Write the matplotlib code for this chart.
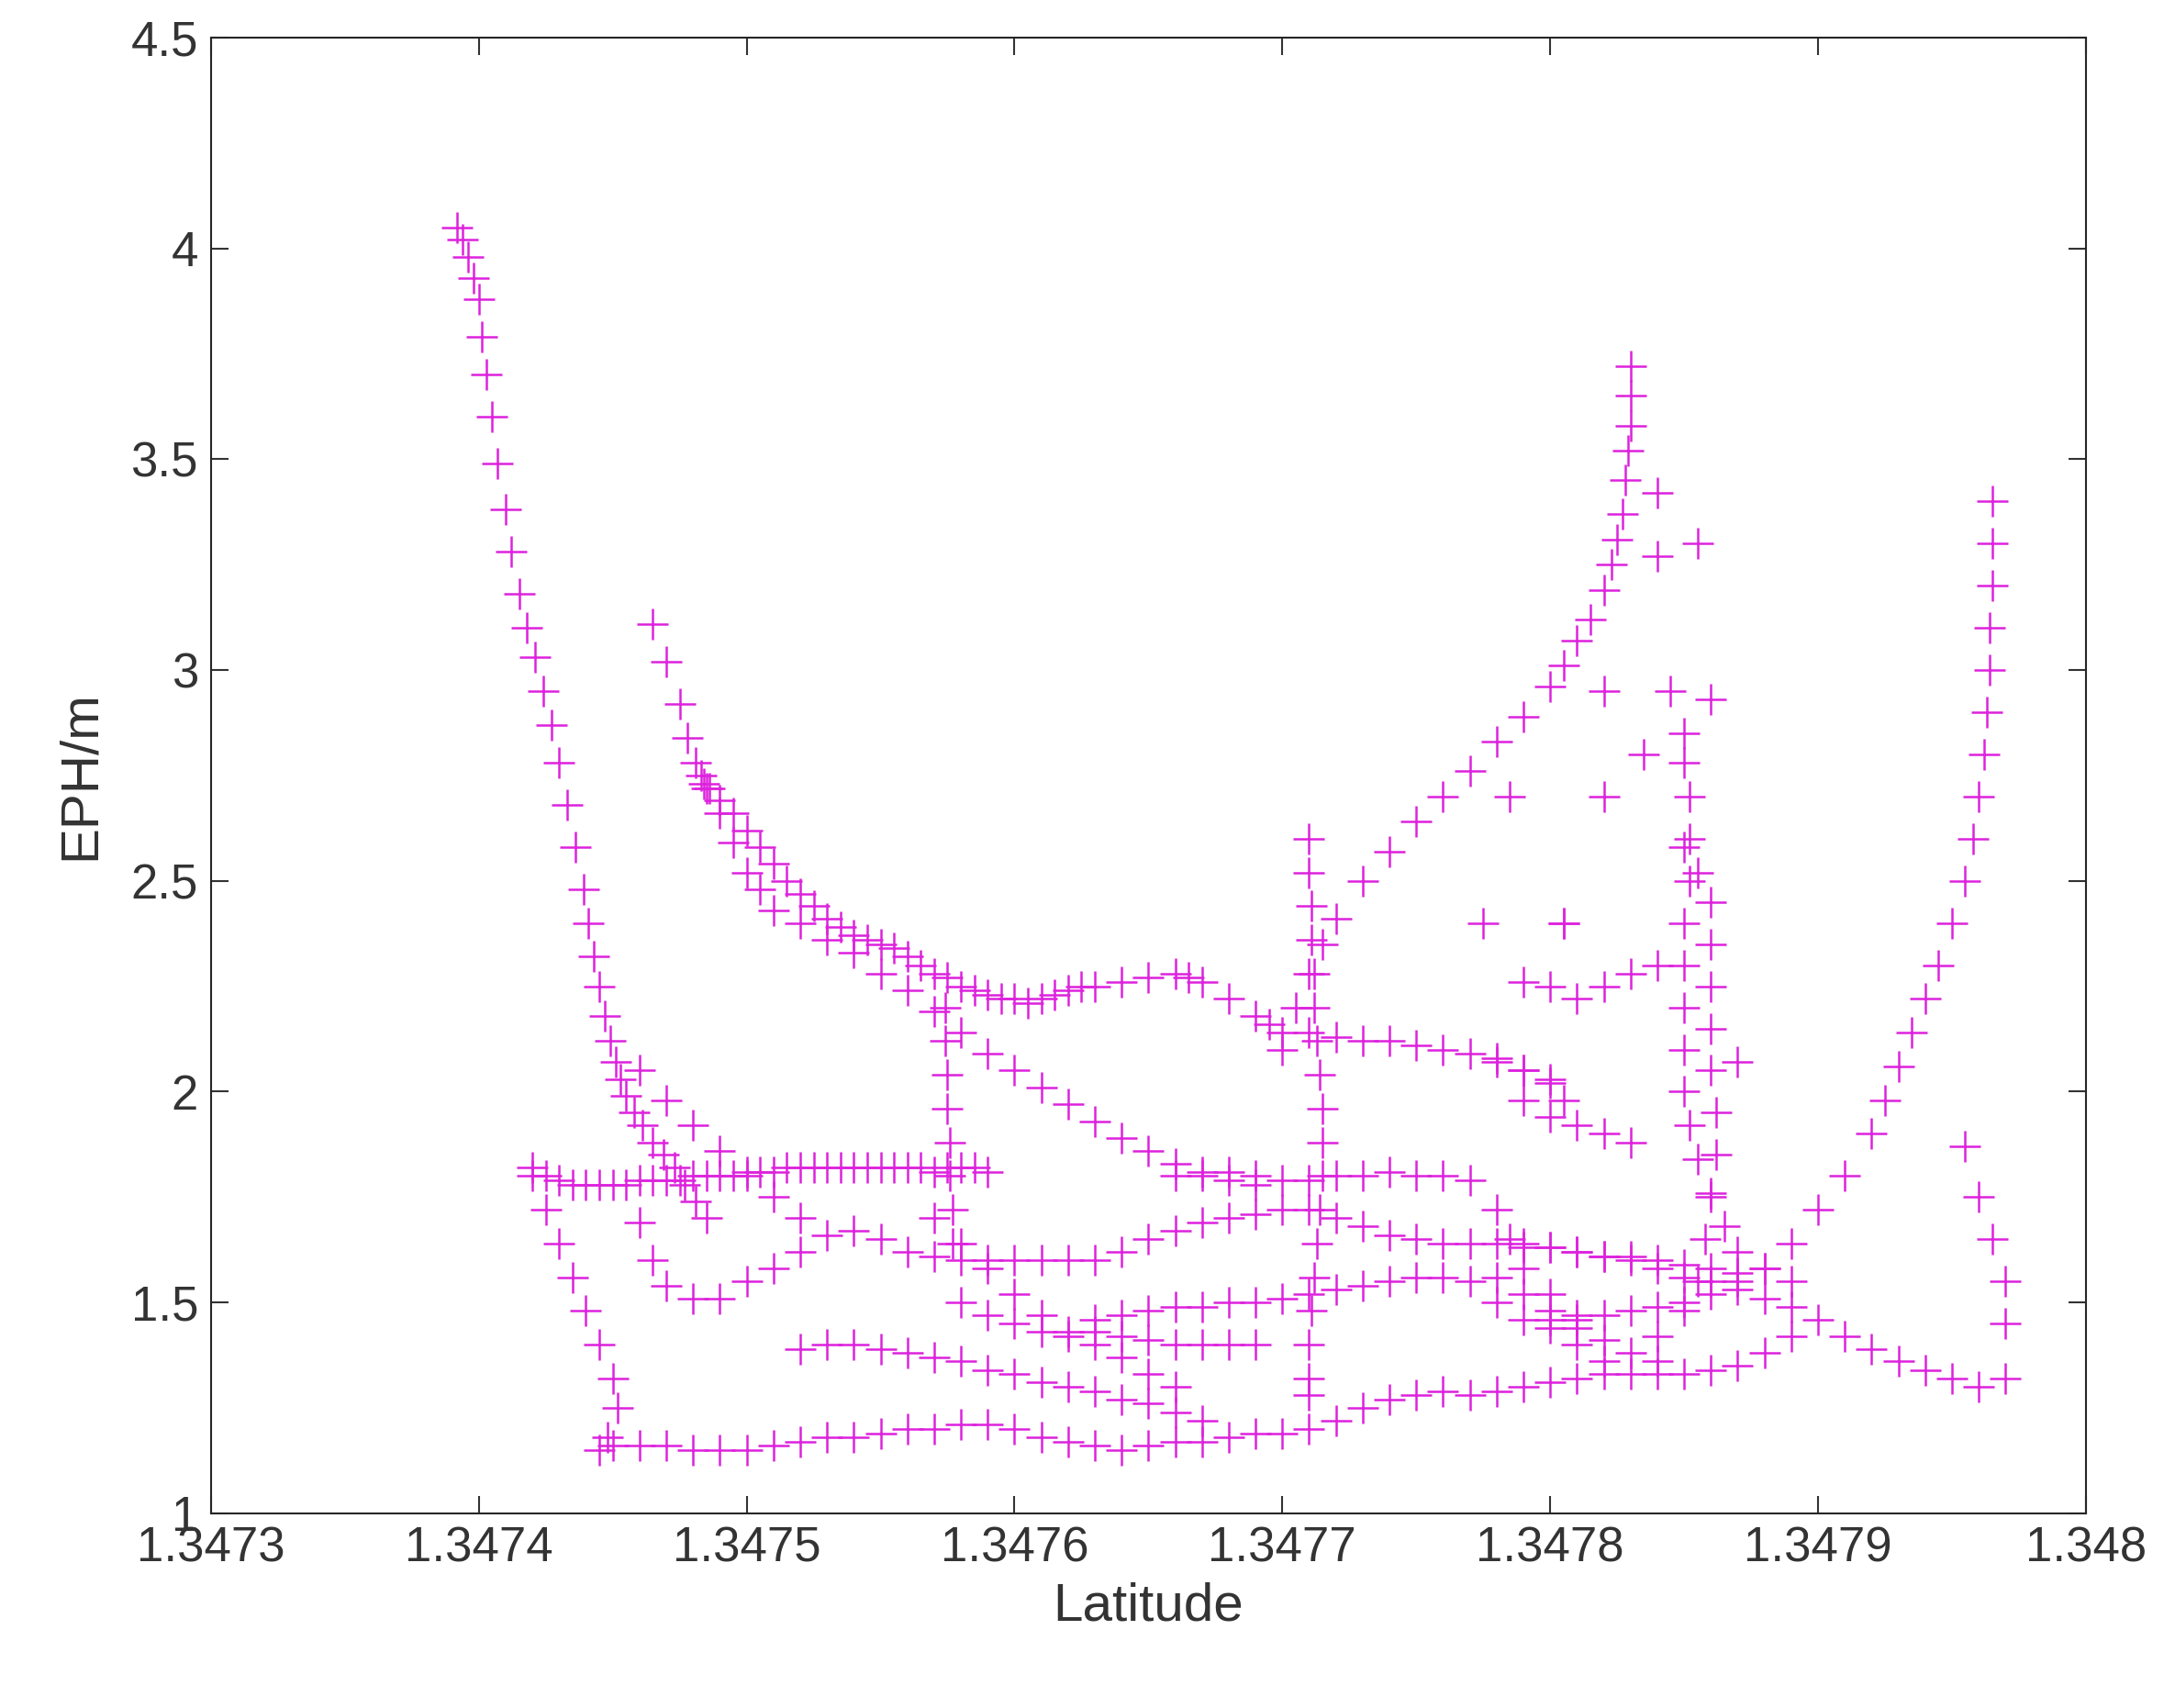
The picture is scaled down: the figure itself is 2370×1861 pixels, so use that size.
import matplotlib
matplotlib.use("Agg")
import matplotlib.pyplot as plt
import numpy as np

plt.rcParams['font.family'] = ['Liberation Sans', 'DejaVu Sans']

# (latitude, EPH) samples per track
track1 = list(zip(
    [1.347392,1.347394,1.347396,1.347398,1.347400,1.347401,1.347403,1.347405,1.347407,1.347410,1.347412,1.347415,1.347418,1.347421,1.347424,1.347427,1.347430,1.347433,1.347436,1.347439,1.347441,1.347443,1.347445,1.347447,1.347449,1.347451,1.347453,1.347455,1.347458,1.347461,1.347465,1.347469,1.347473,1.347477,1.347481,1.347485],
    [4.05,4.02,3.98,3.93,3.88,3.79,3.70,3.60,3.49,3.38,3.28,3.18,3.10,3.03,2.95,2.87,2.78,2.68,2.58,2.48,2.40,2.32,2.25,2.18,2.12,2.07,2.03,1.99,1.95,1.92,1.88,1.85,1.82,1.78,1.74,1.70]))
track2 = list(zip(
    [1.347465,1.347470,1.347475,1.347478,1.347481,1.347483,1.347484,1.347486,1.347490,1.347495,1.347500,1.347505,1.347510,1.347515,1.347520,1.347525,1.347530,1.347535,1.347540,1.347545,1.347550,1.347555,1.347560,1.347565,1.347570,1.347575,1.347580,1.347585,1.347590,1.347595,1.347600,1.347605,1.347610,1.347615,1.347620,1.347625,1.347630,1.347640,1.347650,1.347660,1.347665,1.347670,1.347680,1.347690,1.347695,1.347700],
    [3.11,3.02,2.92,2.84,2.78,2.75,2.73,2.72,2.69,2.66,2.62,2.58,2.54,2.50,2.47,2.44,2.41,2.39,2.37,2.36,2.35,2.34,2.32,2.30,2.28,2.27,2.25,2.24,2.23,2.22,2.22,2.21,2.22,2.23,2.24,2.25,2.25,2.26,2.27,2.28,2.27,2.26,2.22,2.18,2.16,2.14]))
track3 = list(zip(
    [1.347485,1.34749,1.347495,1.3475,1.347505,1.34751,1.34752,1.34753,1.34754,1.34755,1.34756,1.34757,1.34758,1.34759,1.3476,1.34761,1.34762,1.34763,1.34764,1.34765,1.34766,1.34767,1.34768,1.34769],
    [2.72,2.66,2.59,2.52,2.48,2.43,2.40,2.36,2.33,2.28,2.24,2.19,2.14,2.09,2.05,2.01,1.97,1.93,1.89,1.86,1.83,1.81,1.79,1.78]))
track4 = list(zip(
    [1.34770,1.347705,1.34771,1.347715,1.34772,1.34773,1.34774,1.34775,1.34776,1.34777,1.34778,1.34779,1.34780,1.347805,1.34781,1.347815,1.34782,1.347823,1.347825,1.347827,1.347828,1.347829,1.34783,1.34783,1.34783],
    [2.10,2.20,2.28,2.35,2.41,2.50,2.57,2.64,2.70,2.76,2.83,2.89,2.96,3.01,3.07,3.12,3.19,3.25,3.31,3.37,3.45,3.52,3.58,3.65,3.72]))
track5 = list(zip(
    [1.347965,1.347965,1.347965,1.347964,1.347964,1.347963,1.347962,1.34796,1.347958,1.347955,1.34795,1.347945,1.34794,1.347935,1.34793,1.347925,1.34792,1.34791,1.3479,1.34789,1.34788,1.34787,1.34786,1.34785,1.34784,1.34783,1.34782,1.34781,1.3478],
    [3.40,3.30,3.20,3.10,3.00,2.90,2.80,2.70,2.60,2.50,2.40,2.30,2.22,2.14,2.06,1.98,1.90,1.80,1.72,1.64,1.58,1.55,1.52,1.50,1.49,1.48,1.47,1.47,1.46]))
track6 = list(zip(
    [1.347955,1.34796,1.347965,1.34797,1.34797,1.34797,1.34796,1.34795,1.34794,1.34793,1.34792,1.34791,1.3479,1.34789,1.34788,1.34787,1.34786,1.34785,1.34784,1.34783,1.34782,1.34781,1.3478,1.34779],
    [1.87,1.75,1.65,1.55,1.45,1.32,1.30,1.32,1.34,1.36,1.39,1.42,1.46,1.49,1.51,1.53,1.55,1.56,1.58,1.60,1.61,1.62,1.63,1.64]))
track7 = list(zip(
    [1.34742,1.347425,1.34743,1.347435,1.34744,1.347445,1.34745,1.347455,1.34746,1.347465,1.34747,1.347475,1.34748,1.347485,1.34749,1.347495,1.3475,1.347505,1.34751,1.347515,1.34752,1.347525,1.34753,1.347535,1.34754,1.347545,1.34755,1.347555,1.34756,1.347565,1.34757,1.347575,1.34758,1.347585,1.34759],
    [1.82,1.80,1.79,1.78,1.78,1.78,1.78,1.78,1.79,1.79,1.79,1.79,1.80,1.80,1.80,1.80,1.81,1.81,1.81,1.82,1.82,1.82,1.82,1.82,1.82,1.82,1.82,1.82,1.82,1.82,1.81,1.82,1.82,1.82,1.81]))
track8 = list(zip(
    [1.34742,1.347425,1.34743,1.347435,1.34744,1.347445,1.34745,1.347452,1.347448,1.347445],
    [1.80,1.72,1.64,1.56,1.48,1.40,1.32,1.25,1.18,1.15]))
track9 = list(zip(
    [1.34745,1.34746,1.34747,1.34748,1.34749,1.3475,1.34751,1.34752,1.34753,1.34754,1.34755,1.34756,1.34757,1.34758,1.34759,1.3476,1.34761,1.34762,1.34763,1.34764,1.34765,1.34766,1.34767,1.34768,1.34769,1.3477,1.34771,1.34772,1.34773,1.34774,1.34775,1.34776,1.34777,1.34778,1.34779,1.3478,1.34781,1.34782,1.34783,1.34784,1.34785,1.34786,1.34787,1.34788,1.34789],
    [1.16,1.16,1.16,1.15,1.15,1.15,1.16,1.17,1.18,1.18,1.19,1.20,1.20,1.21,1.21,1.20,1.18,1.17,1.16,1.15,1.16,1.17,1.17,1.18,1.19,1.19,1.20,1.22,1.25,1.27,1.28,1.29,1.28,1.29,1.30,1.31,1.32,1.33,1.33,1.33,1.33,1.34,1.35,1.38,1.42]))
track10 = list(zip(
    [1.34746,1.347465,1.34747,1.34748,1.34749,1.3475,1.34751,1.34752,1.34753,1.34754,1.34755,1.34756,1.34757,1.34758,1.34759,1.3476,1.34761,1.34762,1.34763,1.34764,1.34765,1.34766,1.34767,1.34768,1.34769,1.3477,1.34771,1.34772,1.34773,1.34774,1.34775,1.34776,1.34777,1.34778,1.34779,1.3478,1.34781,1.34782,1.34783,1.34784,1.34785,1.34786,1.34787],
    [1.69,1.60,1.54,1.51,1.51,1.55,1.58,1.62,1.66,1.67,1.65,1.62,1.61,1.60,1.60,1.60,1.60,1.60,1.60,1.62,1.65,1.67,1.69,1.70,1.71,1.72,1.72,1.70,1.68,1.66,1.65,1.64,1.64,1.64,1.63,1.63,1.62,1.61,1.61,1.60,1.59,1.58,1.57]))
track11 = list(zip(
    [1.34752,1.34753,1.34754,1.34755,1.34756,1.34757,1.34758,1.34759,1.3476,1.34761,1.34762,1.34763,1.34764,1.34765,1.34766,1.34767],
    [1.39,1.40,1.40,1.39,1.38,1.37,1.36,1.34,1.33,1.31,1.30,1.29,1.27,1.26,1.24,1.22]))
track12 = list(zip(
    [1.34758,1.34759,1.3476,1.34761,1.34762,1.34763,1.34764,1.34765,1.34766,1.34767,1.34768,1.34769],
    [1.50,1.47,1.45,1.43,1.42,1.43,1.42,1.41,1.40,1.40,1.40,1.40]))
track13 = list(zip(
    [1.34763,1.34764,1.34765,1.34766,1.34767,1.34768,1.34769,1.3477,1.34771,1.34772,1.34773,1.34774,1.34775,1.34776,1.34777,1.34778,1.34779,1.3478,1.34781,1.34782],
    [1.46,1.47,1.48,1.49,1.49,1.50,1.50,1.51,1.52,1.53,1.54,1.55,1.56,1.56,1.55,1.50,1.46,1.44,1.40,1.36]))
track14 = list(zip(
    [1.34766,1.34767,1.34768,1.34769,1.3477,1.34771,1.34772,1.34773,1.34774,1.34775,1.34776,1.34777,1.34778,1.347785,1.34779,1.3478,1.34781],
    [1.80,1.80,1.81,1.80,1.79,1.79,1.80,1.80,1.81,1.80,1.80,1.79,1.72,1.65,1.58,1.52,1.46]))
track15 = list(zip(
    [1.34771,1.34772,1.34773,1.34774,1.34775,1.34776,1.34777,1.34778,1.34779,1.3478],
    [2.14,2.13,2.12,2.12,2.11,2.10,2.09,2.07,2.05,2.03]))
track16 = list(zip(
    [1.34771,1.34771,1.347711,1.347711,1.347712,1.347712,1.347713,1.347714,1.347715,1.347715,1.347715,1.347714,1.347713,1.347712,1.347711,1.34771,1.34771,1.34771],
    [2.60,2.52,2.44,2.36,2.28,2.20,2.12,2.04,1.96,1.88,1.80,1.72,1.64,1.56,1.48,1.40,1.32,1.28]))
track17 = list(zip(
    [1.34779,1.3478,1.347805,1.3478,1.34781,1.34782,1.34783,1.34779,1.34778,1.347775,1.34779,1.3478,1.347805,1.34781,1.34782,1.34783,1.34784],
    [2.05,2.02,1.98,1.94,1.92,1.90,1.88,1.98,2.08,2.40,2.26,2.25,2.40,2.22,2.25,2.28,2.30]))
track18 = list(zip(
    [1.347845,1.34785,1.34785,1.347852,1.347852,1.347852,1.34785,1.34785,1.34785,1.34785,1.34785,1.347852,1.347855,1.34786,1.347865,1.34787,1.34788,1.34789],
    [2.95,2.85,2.78,2.70,2.60,2.50,2.40,2.30,2.20,2.10,2.00,1.92,1.84,1.76,1.68,1.62,1.58,1.55]))
track19 = list(zip(
    [1.34785,1.347855,1.34786,1.34786,1.34786,1.34786,1.34786,1.347862,1.347862,1.34786,1.347858,1.347855,1.34785,1.34784],
    [2.58,2.52,2.45,2.35,2.25,2.15,2.05,1.95,1.85,1.75,1.65,1.55,1.48,1.42]))
track20 = list(zip(
    [1.34784,1.347855,1.34784,1.34782,1.347835,1.34782,1.34787,1.34786,1.347785,1.347805],
    [3.42,3.30,3.27,2.95,2.80,2.70,2.07,2.93,2.70,2.40]))
track21 = list(zip(
    [1.347574,1.347574,1.347575,1.347575,1.347576,1.347576,1.347577,1.347577],
    [2.20,2.12,2.04,1.96,1.88,1.80,1.72,1.64]))
track22 = list(zip(
    [1.34746,1.34747,1.34748,1.34749,1.3475,1.34751,1.34752],
    [2.05,1.98,1.92,1.86,1.80,1.75,1.70]))
track23 = list(zip(
    [1.34757,1.34758,1.34759,1.3476,1.34761,1.34762,1.34763,1.34764,1.34765,1.34766],
    [1.70,1.64,1.58,1.52,1.47,1.43,1.40,1.37,1.33,1.30]))
track24 = list(zip(
    [1.34778,1.34779,1.3478,1.34781,1.34782,1.34783,1.34784],
    [1.56,1.52,1.48,1.44,1.41,1.38,1.36]))

tracks = [track1, track2, track3, track4, track5, track6, track7, track8, track9,
          track10, track11, track12, track13, track14, track15, track16, track17,
          track18, track19, track20, track21, track22, track23, track24]

x_ticks = [1.3473, 1.3474, 1.3475, 1.3476, 1.3477, 1.3478, 1.3479, 1.348]
x_labels = ['1.3473', '1.3474', '1.3475', '1.3476', '1.3477', '1.3478', '1.3479', '1.348']
y_ticks = [1, 1.5, 2, 2.5, 3, 3.5, 4, 4.5]
y_labels = ['1', '1.5', '2', '2.5', '3', '3.5', '4', '4.5']

fig = plt.figure(figsize=(23.7, 18.61), dpi=100)
ax = fig.add_axes([0.097, 0.114, 0.862, 0.864])
lat = np.array([p[0] for t in tracks for p in t])
eph = np.array([p[1] for t in tracks for p in t])
ax.plot(lat, eph, linestyle='none', marker='+', color='#dd22dd', markersize=25, markeredgewidth=1.8)

ax.set_xlim(1.3473, 1.348)
ax.set_ylim(1, 4.5)
ax.set_xticks(x_ticks)
ax.set_xticklabels(x_labels)
ax.set_yticks(y_ticks)
ax.set_yticklabels(y_labels)
ax.tick_params(direction='in', top=True, right=True, length=14, width=1.5,
               labelsize=38, colors='#333333', pad=10)
for s in ax.spines.values():
    s.set_linewidth(1.5)
    s.set_color('#262626')
ax.set_xlabel('Latitude', fontsize=42, color='#333333', labelpad=8)
ax.set_ylabel('EPH/m', fontsize=42, color='#333333', labelpad=20)
fig.savefig('out.png', dpi=100)
